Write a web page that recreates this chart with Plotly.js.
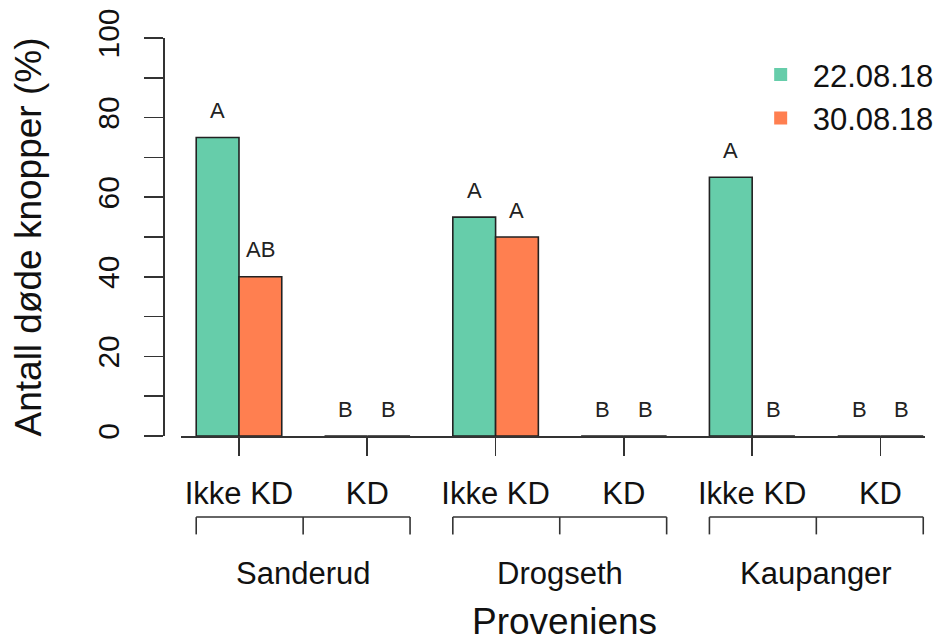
<!DOCTYPE html>
<html>
<head>
<meta charset="utf-8">
<script src="https://cdn.plot.ly/plotly-3.0.1.min.js"></script>
<style>html,body{margin:0;padding:0;background:#fff}</style>
</head>
<body>
<div id="chart" style="width:939px;height:644px"></div>
<script>
// Provenances and treatments (bars are ordered site by site, treatment inside site)
const sites = ["Sanderud", "Drogseth", "Kaupanger"];
const treatments = ["Ikke KD", "KD"];
const dates = ["22.08.18", "30.08.18"];

// Share of dead buds (%) per site × treatment
const dead_220818 = [75, 0, 55, 0, 65, 0];
const dead_300818 = [40, 0, 50, 0, 0, 0];

// Significance letters written above each bar
const letters_220818 = ["A", "B", "A", "B", "A", "B"];
const letters_300818 = ["AB", "B", "A", "B", "B", "B"];

const yTicks = [0, 10, 20, 30, 40, 50, 60, 70, 80, 90, 100];
const yTickText = ["0", "", "20", "", "40", "", "60", "", "80", "", "100"];

const colors = ["#66CDAA", "#FF7F50"];
const FONT = "Liberation Sans, Arial, Helvetica, sans-serif";
const INK = "#111";
const LINE = "#333";

const cats = [];
const catSite = [];
const catTreat = [];
sites.forEach(s => treatments.forEach(t => {
  cats.push(s + " / " + t);
  catSite.push(s);
  catTreat.push(t);
}));

const series = [dead_220818, dead_300818];
const letters = [letters_220818, letters_300818];

// bargap 1/3 → each bar is a third of a category; two bars side by side
const BARGAP = 1 / 3;
const barW = (1 - BARGAP) / 2;

const traces = [];
series.forEach((vals, k) => {
  traces.push({
    type: "bar",
    x: cats,
    y: vals,
    name: dates[k],
    showlegend: false,
    marker: { color: colors[k], line: { color: "#222", width: 1.6 } },
    hoverinfo: "skip"
  });
});
// legend keys: plain filled squares
dates.forEach((d, k) => {
  traces.push({
    type: "scatter",
    mode: "markers",
    x: [null],
    y: [null],
    name: d,
    marker: { symbol: "square", size: 13, color: colors[k] },
    hoverinfo: "skip"
  });
});

const annotations = [];
// letters above bars
series.forEach((vals, k) => {
  vals.forEach((v, i) => {
    const xc = i + (k === 0 ? -barW / 2 : barW / 2);
    annotations.push({
      x: xc, y: v, xref: "x", yref: "y",
      text: letters[k][i], showarrow: false,
      xanchor: "center", yanchor: "middle", yshift: 27,
      font: { family: FONT, size: 22, color: "#222" }
    });
  });
});

// bracket geometry (paper units below the plot)
const BR_TOP = -0.2037, BR_BOT = -0.2472, SITE_Y = -0.3465;
const shapes = [];
sites.forEach((s, j) => {
  const first = j * treatments.length;
  const last = first + treatments.length - 1;
  const x0 = first - barW, x1 = last + barW, xm = (first + last) / 2;
  const ln = { color: LINE, width: 1.6 };
  shapes.push({ type: "line", xref: "x", yref: "paper", x0: x0, x1: x1, y0: BR_TOP, y1: BR_TOP, line: ln });
  [x0, xm, x1].forEach(xx => {
    shapes.push({ type: "line", xref: "x", yref: "paper", x0: xx, x1: xx, y0: BR_TOP, y1: BR_BOT, line: ln });
  });
  annotations.push({
    x: xm, y: SITE_Y, xref: "x", yref: "paper", text: s, showarrow: false,
    xanchor: "center", yanchor: "middle",
    font: { family: FONT, size: 31, color: INK }
  });
});

// x-axis title
annotations.push({
  x: 0.527, y: -0.467, xref: "paper", yref: "paper", text: "Proveniens", showarrow: false,
  xanchor: "center", yanchor: "middle",
  font: { family: FONT, size: 37, color: INK }
});

const layout = {
  width: 939,
  height: 644,
  paper_bgcolor: "#fff",
  plot_bgcolor: "#fff",
  margin: { l: 163, r: 14, t: 38, b: 208.3, pad: 0, autoexpand: false },
  barmode: "group",
  bargap: BARGAP,
  bargroupgap: 0,
  font: { family: FONT, color: INK },
  xaxis: {
    type: "category",
    domain: [0.02362, 1],
    range: [-0.452, 5.347],
    tickmode: "array",
    tickvals: cats,
    ticktext: catTreat,
    ticks: "outside",
    ticklen: 18,
    tickwidth: 1.6,
    tickcolor: LINE,
    ticklabelstandoff: 11,
    showline: true,
    linecolor: LINE,
    linewidth: 1.6,
    showgrid: false,
    zeroline: false,
    tickfont: { family: FONT, size: 31, color: INK },
    fixedrange: true
  },
  yaxis: {
    anchor: "free",
    position: 0,
    range: [0, 100],
    tickmode: "array",
    tickvals: yTicks,
    ticktext: yTickText,
    tickangle: -90,
    ticks: "outside",
    ticklen: 19,
    tickwidth: 1.6,
    tickcolor: LINE,
    ticklabelstandoff: 13,
    showline: true,
    linecolor: LINE,
    linewidth: 1.6,
    showgrid: false,
    zeroline: false,
    tickfont: { family: FONT, size: 30, color: INK },
    title: { text: "Antall døde knopper (%)", font: { family: FONT, size: 37, color: INK }, standoff: 37 },
    fixedrange: true
  },
  showlegend: true,
  legend: {
    x: 0.7686, y: 0.975, xanchor: "left", yanchor: "top",
    bgcolor: "rgba(0,0,0,0)",
    font: { family: FONT, size: 31, color: INK },
    itemwidth: 54,
    tracegroupgap: 0,
    itemclick: false
  },
  shapes: shapes,
  annotations: annotations
};

Plotly.newPlot("chart", traces, layout, { staticPlot: true, displayModeBar: false });
</script>
</body>
</html>
